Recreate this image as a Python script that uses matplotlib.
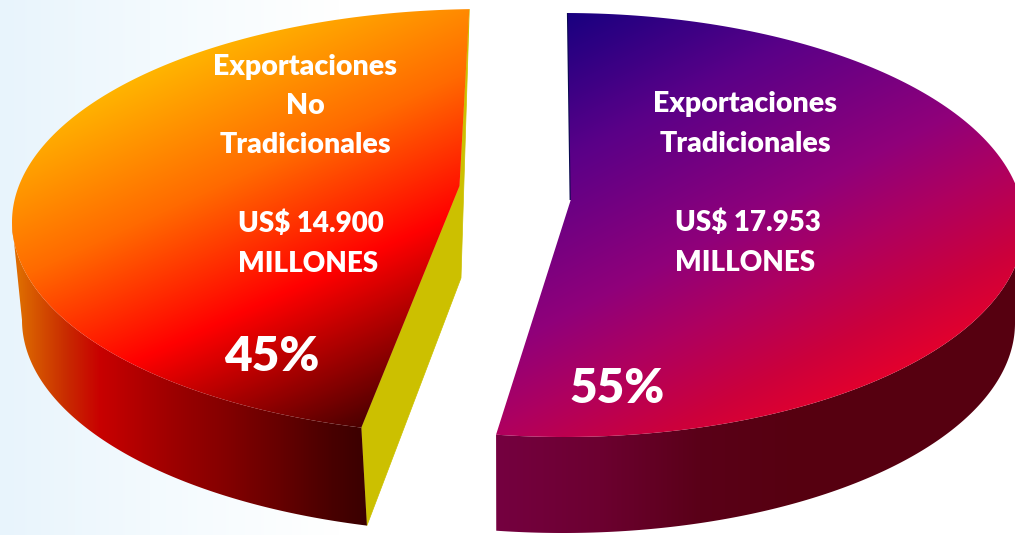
"""
Exportaciones tradicionales / no tradicionales, exploded 3D pie with gradients.
"""
import numpy as np
import matplotlib
matplotlib.use("Agg")
import matplotlib.pyplot as plt
from matplotlib.colors import LinearSegmentedColormap
from matplotlib.patches import Polygon

plt.rcParams['font.family'] = ['Lato', 'DejaVu Sans']

# data
categories = ["Exportaciones\nNo\nTradicionales", "Exportaciones\nTradicionales"]
values = [14900, 17953]
value_labels = ["US$ 14.900\nMILLONES", "US$ 17.953\nMILLONES"]
pct_labels = ["45%", "55%"]

W, H = 1015, 535
shares = np.array(values) / sum(values)

########################################################
# gradient helpers

def ramp(stops):
    lo, hi = stops[0][0], stops[-1][0]
    cmap = LinearSegmentedColormap.from_list(
        "r", [((s - lo) / (hi - lo), c) for s, c in stops], N=512)
    return cmap, lo, hi

def fill(ax, pts, stops, direction, z):
    xx, yy = np.meshgrid(np.arange(W) + 0.5, np.arange(H) + 0.5)
    cmap, lo, hi = ramp(stops)
    t = direction[0] * xx + direction[1] * yy
    patch = Polygon(pts, closed=True, fc="none", ec="none", transform=ax.transData)
    ax.add_patch(patch)
    im = ax.imshow(t, cmap=cmap, vmin=lo, vmax=hi, extent=(0, W, H, 0),
                   aspect="auto", interpolation="bilinear", zorder=z)
    im.set_clip_path(patch)

def arc(cx, cy, rx, ry, a0, a1, n=200):
    t = np.radians(np.linspace(a0, a1, n))
    return np.column_stack((cx + rx * np.cos(t), cy - ry * np.sin(t)))

fig = plt.figure(figsize=(W / 100, H / 100), dpi=100)
ax = fig.add_axes([0, 0, 1, 1])

# faint blue wash on the left of the slide
fill(ax, [(0, 0), (W, 0), (W, H), (0, H)],
     [(0, "#E8F4FC"), (150, "#F3FAFE"), (340, "#FFFFFF")], (1, 0), 0)

########################################################
# left slice (no tradicionales)
start = 91.9
end = start + 360 * shares[0] * 0.998
apex = (459.5, 186)
top = arc(485, 222, 473, 213, start, end)
side_top = arc(485, 222, 473, 213, 180, end)
side_bot = arc(489, 320, 467, 213, end, 180)

inner = [top[0], apex, top[-1], side_bot[0], (apex[0] + 1.5, apex[1] + 92)]
ax.add_patch(Polygon(inner, closed=True, fc="#CCC000", ec="#CCC000", lw=0.5, zorder=1))

fill(ax, np.vstack((side_top, side_bot)),
     [(20, "#DD6A00"), (67, "#C82A00"), (100, "#C80000"), (167, "#A00000"),
      (233, "#800000"), (333, "#480000"), (367, "#3A0000")], (1, 0), 2)
fill(ax, np.vstack((top, [apex])),
     [(130, "#FFB300"), (260, "#FF6A00"), (385, "#FF0000"), (540, "#4A0000")],
     (0.417, 0.909), 3)

########################################################
# right slice (tradicionales), goes clockwise from the top
start = 89.5
end = start - 360 * shares[1] * 0.9556
apex = (570.7, 200)
top = arc(564, 225, 460, 212, start, end)
side_top = arc(564, 225, 460, 212, end, 0)
side_bot = arc(563, 323, 452, 210, 0, end)

ax.plot([top[0][0], apex[0]], [top[0][1], apex[1]], color="#0A0A50", lw=1.6,
        solid_capstyle="butt", zorder=3)
fill(ax, np.vstack((side_top, side_bot)),
     [(497, "#750040"), (600, "#6C0030"), (700, "#5A0018"), (800, "#560010"),
      (1015, "#560010")], (1, 0), 2)
fill(ax, np.vstack((top, [apex])),
     [(275, "#1A0080"), (400, "#5A0088"), (540, "#90007A"), (610, "#AE0060"),
      (690, "#CC003C"), (760, "#EA0028")], (0.46, 0.888), 3)

########################################################
# texts
txt = dict(color="white", fontweight="heavy", zorder=5, va="center")
ax.text(305, 106, categories[0], fontsize=20.5, ha="center", linespacing=1.62, **txt)
ax.text(745, 124, categories[1], fontsize=20.5, ha="center", linespacing=1.62, **txt)
ax.text(238, 243.5, value_labels[0], fontsize=20, ha="left", linespacing=1.66, **txt)
ax.text(675, 242.5, value_labels[1], fontsize=20, ha="left", linespacing=1.66, **txt)
ax.text(272, 357, pct_labels[0], fontsize=34.5, ha="center", **txt)
ax.text(617, 389, pct_labels[1], fontsize=34.5, ha="center", **txt)

ax.set_xlim(0, W)
ax.set_ylim(H, 0)
ax.axis("off")
fig.savefig("out.png", dpi=100)
